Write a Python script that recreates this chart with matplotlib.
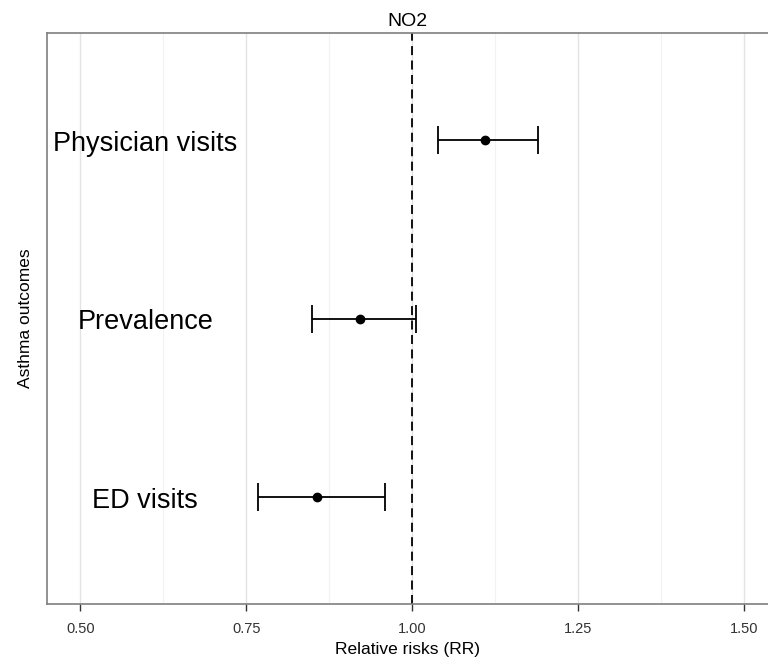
import numpy as np
import matplotlib.pyplot as plt
from matplotlib.ticker import MultipleLocator

plt.rcParams['font.family'] = ['Liberation Sans', 'DejaVu Sans']

# datos
outcomes = ["Physician visits", "Prevalence", "ED visits"]
rr = [1.110, 0.922, 0.857]
lower = [1.039, 0.849, 0.768]
upper = [1.190, 1.006, 0.959]
ticks = [0.50, 0.75, 1.00, 1.25, 1.50]

ypos = np.arange(len(outcomes))[::-1] + 1
rr = np.array(rr)
err = np.array([rr - np.array(lower), np.array(upper) - rr])

fig = plt.figure(figsize=(7.68, 6.66), dpi=100)
ax = fig.add_axes([47/768, 62/666, 721/768, 571/666])

ax.axvline(1.0, color='black', ls=(0, (5, 3)), lw=1.3, zorder=1)
ax.errorbar(rr, ypos, xerr=err, fmt='o', color='black', ms=6,
            elinewidth=1.3, capsize=10, capthick=1.3, zorder=3)

for y, lab in zip(ypos, outcomes):
    ax.text(0.598, y - 0.02, lab, ha='center', va='center', fontsize=19.5)

ax.set_xlim(0.450, 1.536)
ax.set_ylim(0.4, 3.6)
ax.set_xticks(ticks)
ax.set_xticklabels(["%.2f" % t for t in ticks])
ax.xaxis.set_minor_locator(MultipleLocator(0.125))
ax.set_yticks([])
ax.grid(which='major', axis='x', color='#e3e3e3', lw=1)
ax.grid(which='minor', axis='x', color='#f2f2f2', lw=0.8)
ax.set_axisbelow(True)
ax.tick_params(axis='x', which='major', length=5, width=1, color='#333333',
               labelsize=10.5, labelcolor='#333333', pad=8)
ax.tick_params(axis='x', which='minor', length=0)
for s in ax.spines.values():
    s.set_color('#7f7f7f')
    s.set_linewidth(1.2)
ax.spines['right'].set_visible(False)

ax.set_title("NO2", fontsize=14, pad=5)
ax.set_xlabel("Relative risks (RR)", fontsize=12.5, labelpad=4)
ax.set_ylabel("Asthma outcomes", fontsize=12.5, labelpad=10)

plt.savefig("out.png", dpi=100)
